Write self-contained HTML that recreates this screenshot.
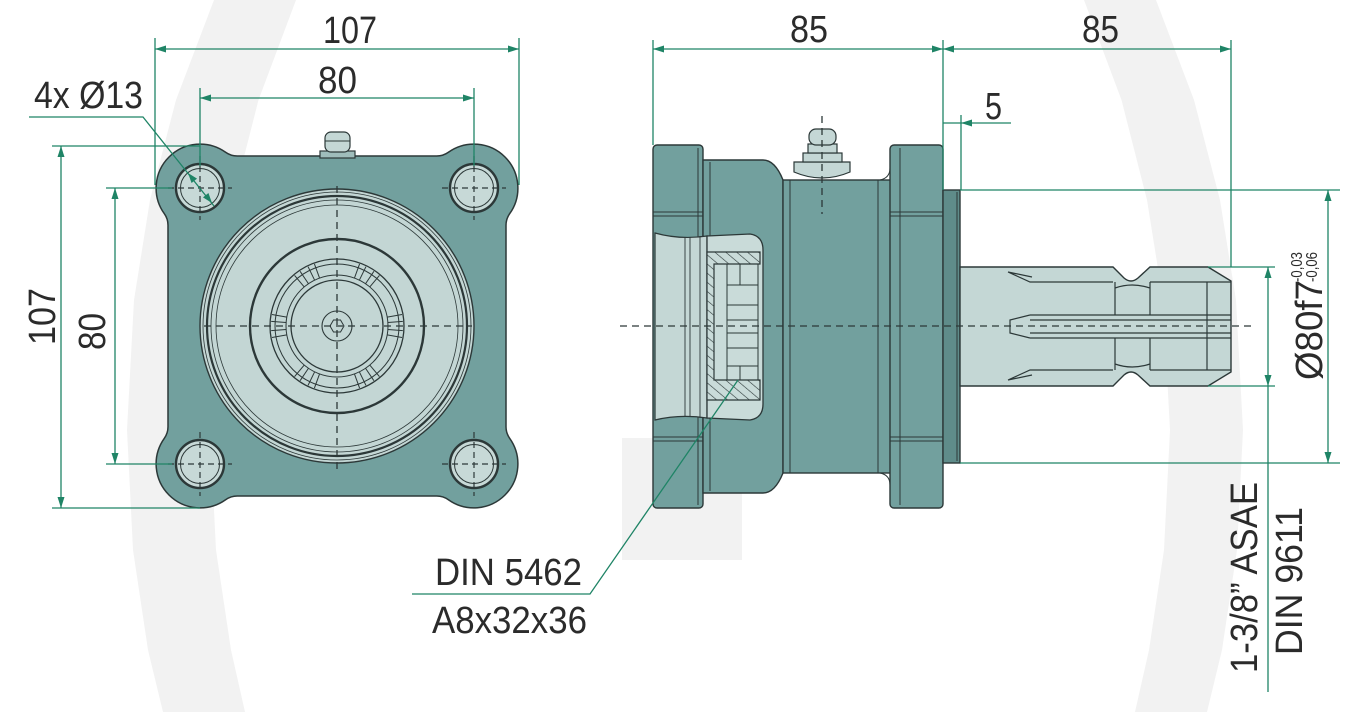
<!DOCTYPE html>
<html><head><meta charset="utf-8"><style>html,body{margin:0;padding:0;background:#fff;width:1356px;height:712px;overflow:hidden}svg{display:block}</style></head>
<body>
<svg width="1356" height="712" viewBox="0 0 1356 712" xmlns="http://www.w3.org/2000/svg">
<defs>
<pattern id="hatch" patternUnits="userSpaceOnUse" width="7" height="7" patternTransform="rotate(-50)">
<rect width="7" height="7" fill="#c9dbd9"/>
<line x1="0" y1="0" x2="0" y2="7" stroke="#2c3838" stroke-width="1.2"/>
</pattern>
</defs>
<rect width="1356" height="712" fill="#fff"/>
<!-- watermark -->
<path fill="#f2f2f2" d="M214,0 L176,100 L150,200 L134,300 L127,430 L133,550 L148,650 L163,712 L245,712 L231,650 L216,550 L210,430 L217,300 L233,200 L258.5,100 L296,0 Z"/>
<path fill="#f2f2f2" d="M1084,0 L1121.5,100 L1147,200 L1163,300 L1170,430 L1164,550 L1149,650 L1135,712 L1207,712 L1222,650 L1237,550 L1243,430 L1236,300 L1220,200 L1194,100 L1156,0 Z"/>
<rect x="622" y="438" width="120" height="122" fill="#f2f2f2"/>

<!-- ============ LEFT VIEW ============ -->
<g stroke="#2c3838" stroke-width="1.5">
<path fill="#72a09e" d="M237.3,156 L436.7,156 A20,20 0 0 0 448.4,152.25 A44,44 0 0 1 509.75,213.6 A20,20 0 0 0 506,225.3 L506,426.7 A20,20 0 0 0 509.75,438.4 A44,44 0 0 1 448.4,499.75 A20,20 0 0 0 436.7,496 L237.3,496 A20,20 0 0 0 225.6,499.75 A44,44 0 0 1 164.25,438.4 A20,20 0 0 0 168,426.7 L168,225.3 A20,20 0 0 0 164.25,213.6 A44,44 0 0 1 225.6,152.25 A20,20 0 0 0 237.3,156 Z"/>
<!-- grease nipple top -->
<rect x="320" y="151" width="35" height="7" fill="#9fbdbb" stroke-width="1.2"/>
<rect x="325" y="132" width="25" height="20" rx="6" fill="#c4d7d5" stroke-width="1.2"/>
<line x1="325" y1="141" x2="350" y2="141" stroke-width="1"/>
</g>
<!-- holes -->
<g stroke="#2c3838">
<g transform="translate(200,188)"><circle r="24" fill="#c7d9d7" stroke-width="2.4"/><circle r="19.5" fill="none" stroke-width="1"/></g>
<g transform="translate(474,188)"><circle r="24" fill="#c7d9d7" stroke-width="2.4"/><circle r="19.5" fill="none" stroke-width="1"/></g>
<g transform="translate(200,464)"><circle r="24" fill="#c7d9d7" stroke-width="2.4"/><circle r="19.5" fill="none" stroke-width="1"/></g>
<g transform="translate(474,464)"><circle r="24" fill="#c7d9d7" stroke-width="2.4"/><circle r="19.5" fill="none" stroke-width="1"/></g>
</g>
<g stroke="#2c3838" stroke-width="1.2" stroke-dasharray="6,4" fill="none">
<path d="M168,188 h64 M200,156 v64 M442,188 h64 M474,156 v64 M168,464 h64 M200,432 v64 M442,464 h64 M474,432 v64"/>
</g>
<!-- big circle -->
<g transform="translate(337,326)" stroke="#2c3838" fill="none">
<circle r="137" fill="#c3d6d4" stroke-width="1.4"/>
<circle r="134" stroke-width="0.8"/>
<circle r="130" stroke-width="2.2"/>
<circle r="126" stroke-width="0.8"/>
<circle r="121" stroke-width="0.8"/>
<circle r="87" stroke-width="2.4"/>
<circle r="67" stroke-width="1.3"/>
<circle r="62" stroke-width="1"/>
<circle r="51" stroke-width="1"/>
<circle r="46" stroke-width="1.3"/>
<circle r="15" stroke-width="1.1"/>
<polygon points="7,0 3.5,6 -3.5,6 -7,0 -3.5,-6 3.5,-6" stroke-width="1"/>
<g stroke-width="1">
<line x1="51" y1="0" x2="66" y2="0" transform="rotate(-10)"/><line x1="51" y1="0" x2="66" y2="0" transform="rotate(-4)"/><line x1="51" y1="0" x2="66" y2="0" transform="rotate(4)"/><line x1="51" y1="0" x2="66" y2="0" transform="rotate(10)"/>
<line x1="51" y1="0" x2="66" y2="0" transform="rotate(50)"/><line x1="51" y1="0" x2="66" y2="0" transform="rotate(56)"/><line x1="51" y1="0" x2="66" y2="0" transform="rotate(64)"/><line x1="51" y1="0" x2="66" y2="0" transform="rotate(70)"/>
<line x1="51" y1="0" x2="66" y2="0" transform="rotate(110)"/><line x1="51" y1="0" x2="66" y2="0" transform="rotate(116)"/><line x1="51" y1="0" x2="66" y2="0" transform="rotate(124)"/><line x1="51" y1="0" x2="66" y2="0" transform="rotate(130)"/>
<line x1="51" y1="0" x2="66" y2="0" transform="rotate(170)"/><line x1="51" y1="0" x2="66" y2="0" transform="rotate(176)"/><line x1="51" y1="0" x2="66" y2="0" transform="rotate(184)"/><line x1="51" y1="0" x2="66" y2="0" transform="rotate(190)"/>
<line x1="51" y1="0" x2="66" y2="0" transform="rotate(230)"/><line x1="51" y1="0" x2="66" y2="0" transform="rotate(236)"/><line x1="51" y1="0" x2="66" y2="0" transform="rotate(244)"/><line x1="51" y1="0" x2="66" y2="0" transform="rotate(250)"/>
<line x1="51" y1="0" x2="66" y2="0" transform="rotate(290)"/><line x1="51" y1="0" x2="66" y2="0" transform="rotate(296)"/><line x1="51" y1="0" x2="66" y2="0" transform="rotate(304)"/><line x1="51" y1="0" x2="66" y2="0" transform="rotate(310)"/>
</g>
</g>
<g stroke="#2c3838" stroke-width="1.3" stroke-dasharray="7,5" fill="none">
<path d="M204,326 H472 M337,186 V470"/>
</g>

<!-- ============ SIDE VIEW ============ -->
<g stroke="#2c3838" stroke-width="1.4">
<rect x="653" y="145" width="50" height="363" rx="4" fill="#72a09e"/>
<path fill="#72a09e" d="M703,160 L763,160 Q775,160 783,180 L783,473 Q775,493 763,493 L703,493 Z"/>
<rect x="783" y="180" width="108" height="293" fill="#72a09e"/>
<rect x="890" y="145" width="53" height="363" rx="4" fill="#72a09e"/>
<rect x="943" y="190" width="17" height="273" fill="#5f8c8a"/>
</g>
<g stroke="#2c3838" stroke-width="1" fill="none">
<path d="M880,180 Q890,178 890,168 M880,473 Q890,475 890,485"/>
<path d="M653,212 H703 M653,216 H703 M653,437 H703 M653,441 H703 M698,148 V505 M710,162 V491"/>
<path d="M790,180 V473 M878,180 V473"/>
<path d="M890,212 H943 M890,216 H943 M890,437 H943 M890,441 H943 M900,148 V505"/>
<path d="M957,192 V461"/>
</g>
<!-- bore -->
<path d="M655,233 Q680,240 707,236 L707,418 Q680,414 655,420 Z" fill="#c4d7d5" stroke="#2c3838" stroke-width="1.2"/>
<g stroke="#2c3838" stroke-width="0.9"><path d="M685,237 V416 M690,237 V416 M700,236 V418"/></g>
<!-- yoke -->
<path d="M707,236 L750,234 Q763,236 763,250 L763,404 Q763,418 750,420 L707,418 Z" fill="#c9dbd9" stroke="#2c3838" stroke-width="1.3"/>
<path d="M707,252 H760 V264 H714 V380 H760 V400 H707 Z" fill="url(#hatch)" stroke="#2c3838" stroke-width="1.2"/>
<g stroke="#2c3838" stroke-width="1" fill="none">
<path d="M727,264 V380 M758,264 V380 M727,285 H758 M727,305 H758 M727,320 H758 M727,333 H758 M727,348 H758 M727,366 H758 M740,264 V285 M740,366 V380"/>
</g>
<!-- shaft -->
<path d="M960,267 L1113,267 L1124,278 Q1131,284 1138,278 L1150,267 L1208,267 L1231,281 L1231,372 L1208,386 L1150,386 L1138,375 Q1131,369 1124,375 L1113,386 L960,386 Z" fill="#c4d7d5" stroke="#2c3838" stroke-width="1.4"/>
<g stroke="#2c3838" stroke-width="1.2" fill="none">
<path d="M1008,272 L1030,282 H1113 M1150,282 H1231 M1008,272 L1032,277"/>
<path d="M1008,380 L1030,370 H1113 M1150,370 H1231 M1008,380 L1032,375"/>
<path d="M1030,315 H1231 M1030,338 H1231 M1030,315 L1010,320 V333 L1030,338 M1030,320 H1231 M1030,333 H1231"/>
<path d="M1115,282 V315 M1150,282 V315 M1115,338 V370 M1150,338 V370 M1115,288 Q1132,282 1150,288 M1115,364 Q1132,370 1150,364"/>
<path d="M1207,282 V370"/>
</g>
<!-- grease nipple side -->
<g stroke="#2c3838" stroke-width="1.2" fill="#c4d7d5">
<path d="M794,162 H850 V172 Q822,184 794,172 Z"/>
<rect x="803" y="153" width="39" height="9"/>
<rect x="808" y="144" width="29" height="9"/>
<rect x="809" y="129" width="27" height="16" rx="7"/>
</g>
<g stroke="#2c3838" stroke-width="1.3" stroke-dasharray="7,5" fill="none">
<path d="M620,326 H1252 M822,116 V214"/>
</g>

<!-- ============ DIMENSIONS ============ -->
<g stroke="#1f8466" stroke-width="1.3" fill="none">
<path d="M155,38 V185 M519,38 V185 M155,49 H519"/>
<path d="M200,88 V166 M474,88 V166 M200,98 H474"/>
<path d="M29,117 H143 L214,206"/>
<path d="M52,146 H200 M52,508 H200 M61,146 V508"/>
<path d="M106,188 H172 M106,464 H172 M115,188 V464"/>
<path d="M653,40 V145 M943,40 V190 M1231,40 V267 M653,49 H1231"/>
<path d="M961,115 V190 M943,123 H1011"/>
<path d="M960,190 H1340 M960,463 H1340 M1328,190 V463"/>
<path d="M1208,267 H1275 M1208,386 H1275 M1268,267 V692"/>
<path d="M412,594 H590 L738,380"/>
</g>
<g fill="#1f8466">
<polygon points="155,49 166,45.5 166,52.5"/><polygon points="519,49 508,45.5 508,52.5"/>
<polygon points="200,98 211,94.5 211,101.5"/><polygon points="474,98 463,94.5 463,101.5"/>
<polygon points="188,173 197.03,178.61 191.57,182.99"/><polygon points="212,203 202.97,197.39 208.43,193.01"/>
<polygon points="61,146 57.5,157 64.5,157"/><polygon points="61,508 57.5,497 64.5,497"/>
<polygon points="115,188 111.5,199 118.5,199"/><polygon points="115,464 111.5,453 118.5,453"/>
<polygon points="653,49 664,45.5 664,52.5"/><polygon points="943,49 932,45.5 932,52.5"/>
<polygon points="943,49 954,45.5 954,52.5"/><polygon points="1231,49 1220,45.5 1220,52.5"/>
<polygon points="961,123 972,119.5 972,126.5"/>
<polygon points="1328,190 1324.5,201 1331.5,201"/><polygon points="1328,463 1324.5,452 1331.5,452"/>
<polygon points="1268,267 1264.5,278 1271.5,278"/><polygon points="1268,386 1264.5,375 1271.5,375"/>
</g>

<!-- ============ TEXT ============ -->
<g font-family="'Liberation Sans', sans-serif" fill="#2b2b2b" font-size="38">
<text x="323" y="43" textLength="54" lengthAdjust="spacingAndGlyphs">107</text>
<text x="318" y="93" textLength="39" lengthAdjust="spacingAndGlyphs">80</text>
<text x="34" y="108" textLength="109" lengthAdjust="spacingAndGlyphs">4x Ø13</text>
<text x="790" y="42" textLength="38" lengthAdjust="spacingAndGlyphs">85</text>
<text x="1082" y="42" textLength="37" lengthAdjust="spacingAndGlyphs">85</text>
<text x="985" y="119" textLength="17" lengthAdjust="spacingAndGlyphs">5</text>
<text x="435" y="585" textLength="147" lengthAdjust="spacingAndGlyphs">DIN 5462</text>
<text x="432" y="633" textLength="155" lengthAdjust="spacingAndGlyphs">A8x32x36</text>
<text transform="translate(55,345) rotate(-90)" textLength="57" lengthAdjust="spacingAndGlyphs">107</text>
<text transform="translate(105,350) rotate(-90)" textLength="37" lengthAdjust="spacingAndGlyphs">80</text>
<text transform="translate(1322,380) rotate(-90)" textLength="100" lengthAdjust="spacingAndGlyphs">Ø80f7</text>
<text transform="translate(1302,282) rotate(-90)" font-size="16" textLength="30" lengthAdjust="spacingAndGlyphs">-0,03</text>
<text transform="translate(1317,282) rotate(-90)" font-size="16" textLength="30" lengthAdjust="spacingAndGlyphs">-0,06</text>
<text transform="translate(1257,673) rotate(-90)" textLength="191" lengthAdjust="spacingAndGlyphs">1-3/8&#8221; ASAE</text>
<text transform="translate(1302,655) rotate(-90)" textLength="148" lengthAdjust="spacingAndGlyphs">DIN 9611</text>
</g>
</svg>
</body></html>
